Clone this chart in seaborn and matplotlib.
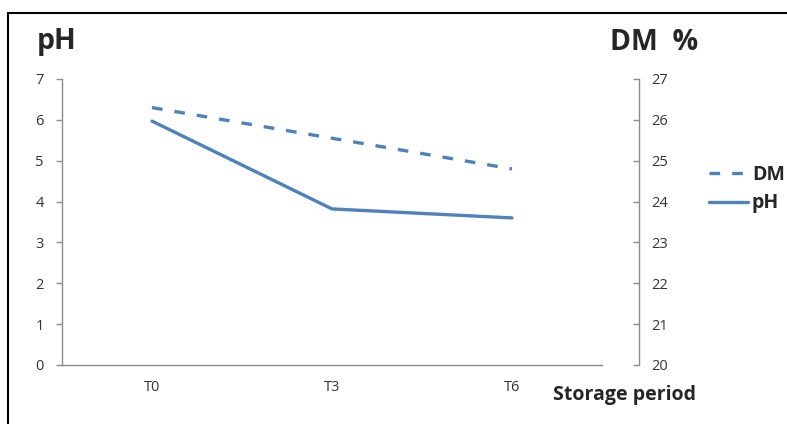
import matplotlib
matplotlib.use("Agg")
import matplotlib.pyplot as plt
from matplotlib.patches import Rectangle
from matplotlib.lines import Line2D
import seaborn as sns
import pandas as pd

sns.set_style("white")
plt.rcParams["font.family"] = ["Open Sans", "DejaVu Sans"]

periods = ["T0", "T3", "T6"]
ph_values = [5.97, 3.82, 3.60]
dm_values = [26.3, 25.55, 24.8]
ph_ticks = [0, 1, 2, 3, 4, 5, 6, 7]
dm_ticks = [20, 21, 22, 23, 24, 25, 26, 27]

BLUE = "#4F81BD"
AXIS_GREY = "#8c8c8c"
TICK_SIZE = 10.5

df = pd.DataFrame({"period": periods, "pos": range(len(periods)),
                   "pH": ph_values, "DM": dm_values})

fig = plt.figure(figsize=(7.87, 4.24), dpi=100)
ax = fig.add_axes([62 / 787, 1 - 365 / 424, (602 - 62) / 787, (365 - 79) / 424])
ax2 = ax.twinx()

sns.lineplot(data=df, x="pos", y="pH", ax=ax, color=BLUE, linewidth=2.4)
sns.lineplot(data=df, x="pos", y="DM", ax=ax2, color=BLUE, linewidth=2.4)
ax2.lines[0].set_dashes((3.2, 3.6))
ax2.lines[0].set_dash_capstyle("butt")

# category axis with boundary ticks between the periods
ax.set_xlim(-0.5, len(periods) - 0.5)
ax.set_xticks(df["pos"])
ax.set_xticklabels(periods)
ax.set_xticks([i - 0.5 for i in range(len(periods) + 1)], minor=True)
ax.tick_params(axis="x", which="major", length=0, pad=11, labelsize=TICK_SIZE,
               labelcolor="#333333")
ax.tick_params(axis="x", which="minor", length=4, direction="out",
               color=AXIS_GREY, width=1)
ax.set_xlabel("")

ax.set_ylim(0, 7)
ax.set_yticks(ph_ticks)
ax.set_yticklabels([str(t) for t in ph_ticks])
ax.tick_params(axis="y", length=4, direction="out", color=AXIS_GREY,
               width=1, pad=9, labelsize=TICK_SIZE, labelcolor="#333333")
ax.set_ylabel("")

ax2.set_ylim(20, 27)
ax2.set_yticks(dm_ticks)
ax2.set_yticklabels([str(t) for t in dm_ticks])
ax2.tick_params(axis="y", length=4, direction="in", color=AXIS_GREY,
                width=1, pad=9, labelsize=TICK_SIZE, labelcolor="#333333")
ax2.set_ylabel("")

for a in (ax, ax2):
    for s in a.spines.values():
        s.set_visible(False)
ax.spines["left"].set_visible(True)
ax.spines["bottom"].set_visible(True)
ax2.spines["right"].set_visible(True)
ax2.spines["right"].set_position(("outward", 37 * 0.72))
for s in (ax.spines["left"], ax.spines["bottom"], ax2.spines["right"]):
    s.set_color(AXIS_GREY)
    s.set_linewidth(1)

# axis titles
fig.text(37 / 787, 1 - 42 / 424, "pH", fontsize=20.5, fontweight="bold",
         va="center", ha="left")
fig.text(610 / 787, 1 - 42 / 424, "DM  %", fontsize=20.5, fontweight="bold",
         va="center", ha="left")
fig.text(553 / 787, 1 - 395 / 424, "Storage period", fontsize=14,
         fontweight="bold", va="center", ha="left")

# legend
handles = [Line2D([], [], color=BLUE, lw=2.4, dashes=(3.2, 3.6)),
           Line2D([], [], color=BLUE, lw=2.4)]
fig.legend(handles, ["DM", "pH"], loc="center left",
           bbox_to_anchor=(709 / 787, 1 - 189 / 424), frameon=False,
           prop={"weight": "bold", "size": 14}, handlelength=2.0,
           handletextpad=0.2, labelspacing=0.45, borderpad=0, borderaxespad=0)

# chart frame
fig.patches.append(Rectangle((8 / 787, -0.1), 1.2, 0.1 + (1 - 13 / 424),
                             transform=fig.transFigure, fill=False,
                             edgecolor="black", linewidth=1.5))

fig.savefig("out.png", dpi=100)
